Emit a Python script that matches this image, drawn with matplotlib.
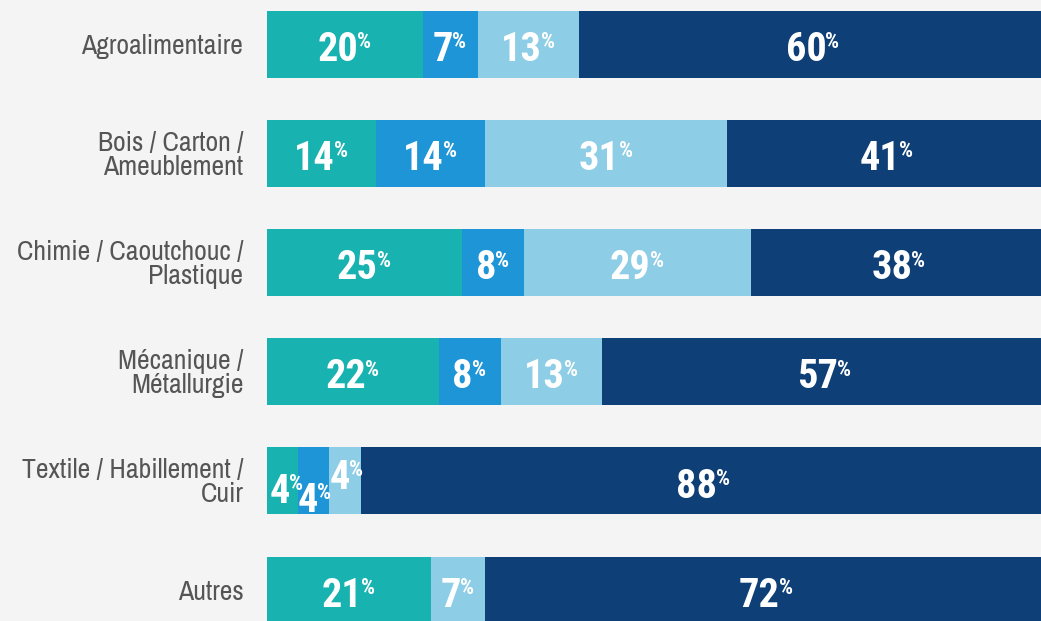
import matplotlib
matplotlib.use("Agg")
import matplotlib.pyplot as plt
import warnings
warnings.filterwarnings("ignore")

categories = ["Agroalimentaire", "Bois / Carton /\nAmeublement",
              "Chimie / Caoutchouc /\nPlastique", "Mécanique /\nMétallurgie",
              "Textile / Habillement /\nCuir", "Autres"]
series_a = [20, 14, 25, 22, 4, 21]
series_b = [7, 14, 8, 8, 4, 0]
series_c = [13, 31, 29, 13, 4, 7]
series_d = [60, 41, 38, 57, 88, 72]
colors = ["#18b2b0", "#1e95d7", "#8dcde6", "#0e3f76"]

W, H, DPI = 1041, 621, 100
fig = plt.figure(figsize=(W / DPI, H / DPI), dpi=DPI, facecolor="#f4f4f4")
left_px = 267
ax = fig.add_axes([left_px / W, 0, 1 - left_px / W, 1])
ax.set_facecolor("#f4f4f4")
px_per_pct = 7.8
ax.set_xlim(0, (W - left_px) / px_per_pct)
spacing = 109.2
c0 = 44
ax.set_ylim((H - c0) / spacing, -c0 / spacing)
for s in ax.spines.values():
    s.set_visible(False)
ax.set_xticks([])
ax.set_yticks(range(len(categories)))
label_fam = ["Archivo Narrow", "Roboto Condensed", "DejaVu Sans"]
ax.set_yticklabels(categories, fontsize=20, color="#555555",
                   family=label_fam, linespacing=0.95, ha="right")
ax.tick_params(axis="y", length=0, pad=17)

bar_h = 67 / spacing
series = [series_a, series_b, series_c, series_d]
lefts = [0] * len(categories)
labels = []
for si, vals in enumerate(series):
    ax.barh(range(len(categories)), vals, left=lefts, height=bar_h,
            color=colors[si], linewidth=0)
    for i, v in enumerate(vals):
        if v > 0:
            labels.append((lefts[i] + v / 2, i, v, si))
    lefts = [l + v for l, v in zip(lefts, vals)]

# special offsets (pixels) for the crowded Textile row
special = {(4, 0): (4, -5), (4, 1): (1, -14), (4, 2): (2, 9)}

fs1, fs2 = 29, 16
em1, em2 = fs1 * DPI / 72, fs2 * DPI / 72
cap = 0.711
fam = ["Roboto Condensed", "Oswald", "Archivo Narrow", "DejaVu Sans"]
items = []
for xc, i, v, si in labels:
    ox, oy = special.get((i, si), (0, 0))
    base = -(cap / 2 * em1 + 2.5) + oy
    pbase = base + cap * em1 - 0.72 * em2
    tn = ax.annotate(str(v), (xc, i), xytext=(ox, base), textcoords="offset pixels",
                     ha="right", va="baseline", fontsize=fs1, fontweight="bold",
                     color="white", family=fam)
    tp = ax.annotate("%", (xc, i), xytext=(ox, pbase), textcoords="offset pixels",
                     ha="left", va="baseline", fontsize=fs2, fontweight="bold",
                     color="white", family=fam)
    items.append((tn, tp, ox, base, pbase))

fig.canvas.draw()
r = fig.canvas.get_renderer()
for tn, tp, ox, base, pbase in items:
    wn = tn.get_window_extent(r).width
    wp = tp.get_window_extent(r).width
    dx = (wn - wp) / 2
    tn.set_position((ox + dx, base))
    tp.set_position((ox + dx - 1, pbase))

fig.savefig("out.png", dpi=DPI, facecolor=fig.get_facecolor())
